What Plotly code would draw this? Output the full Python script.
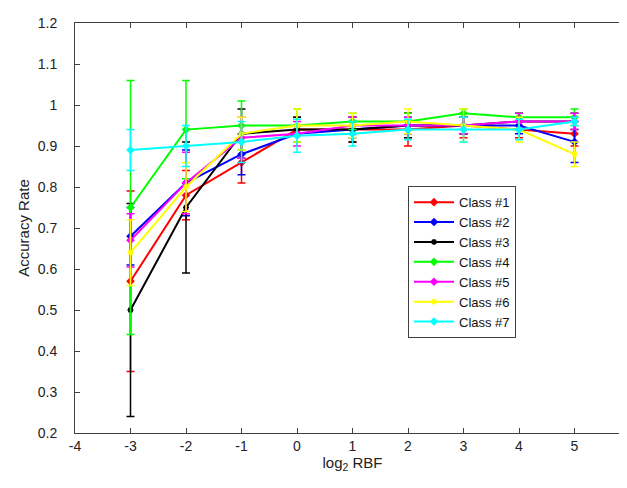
import plotly.graph_objects as go

x_vals = [-3, -2, -1, 0, 1, 2, 3, 4, 5]
x_tick_vals = [-4, -3, -2, -1, 0, 1, 2, 3, 4, 5, 6]
x_tick_text = ["-4", "-3", "-2", "-1", "0", "1", "2", "3", "4", "5", "6"]
y_tick_vals = [0.2, 0.3, 0.4, 0.5, 0.6, 0.7, 0.8, 0.9, 1.0, 1.1, 1.2]
y_tick_text = ["0.2", "0.3", "0.4", "0.5", "0.6", "0.7", "0.8", "0.9", "1", "1.1", "1.2"]

class_names = ["Class #1", "Class #2", "Class #3", "Class #4", "Class #5", "Class #6", "Class #7"]

c1 = [0.57, 0.78, 0.86, 0.94, 0.94, 0.94, 0.95, 0.94, 0.93]
c1_err = [0.22, 0.06, 0.05, 0.03, 0.03, 0.04, 0.03, 0.02, 0.03]
c2 = [0.68, 0.81, 0.88, 0.93, 0.94, 0.95, 0.95, 0.95, 0.91]
c2_err = [0.07, 0.08, 0.05, 0.02, 0.02, 0.02, 0.02, 0.02, 0.05]
c3 = [0.50, 0.75, 0.93, 0.94, 0.94, 0.95, 0.95, 0.96, 0.96]
c3_err = [0.26, 0.16, 0.06, 0.03, 0.03, 0.03, 0.02, 0.02, 0.02]
c4 = [0.75, 0.94, 0.95, 0.95, 0.96, 0.96, 0.98, 0.97, 0.97]
c4_err = [0.31, 0.12, 0.06, 0.04, 0.02, 0.02, 0.01, 0.01, 0.02]
c5 = [0.67, 0.81, 0.92, 0.93, 0.95, 0.95, 0.95, 0.96, 0.96]
c5_err = [0.065, 0.075, 0.05, 0.03, 0.02, 0.02, 0.02, 0.02, 0.02]
c6 = [0.64, 0.80, 0.93, 0.95, 0.95, 0.96, 0.95, 0.94, 0.88]
c6_err = [0.08, 0.06, 0.04, 0.04, 0.03, 0.03, 0.04, 0.03, 0.03]
c7 = [0.89, 0.90, 0.91, 0.925, 0.93, 0.94, 0.94, 0.94, 0.96]
c7_err = [0.05, 0.05, 0.05, 0.04, 0.03, 0.025, 0.03, 0.025, 0.01]

series = [c1, c2, c3, c4, c5, c6, c7]
errors = [c1_err, c2_err, c3_err, c4_err, c5_err, c6_err, c7_err]
colors = ["#ff0000", "#0000ff", "#000000", "#00ff00", "#ff00ff", "#ffff00", "#00ffff"]
symbols = ["diamond", "diamond", "asterisk-open", "diamond", "diamond", "asterisk-open", "diamond"]

fig = go.Figure()
for name, ys, es, col, sym in zip(class_names, series, errors, colors, symbols):
    fig.add_trace(go.Scatter(
        x=x_vals, y=ys, name=name, mode="lines+markers",
        line=dict(color=col, width=2),
        marker=dict(symbol=sym, size=5, color=col, line=dict(color=col, width=1.5)),
        error_y=dict(type="data", array=es, visible=True, color=col, thickness=1.5, width=4),
    ))

font_family = "Liberation Sans, Arial, sans-serif"
axis_common = dict(
    showline=True, linecolor="#404040", linewidth=1, mirror="ticks",
    ticks="inside", ticklen=5, tickcolor="#404040",
    showgrid=False, zeroline=False, automargin=False,
    tickfont=dict(family=font_family, size=14, color="#222222"),
)

fig.update_layout(
    width=627, height=488,
    margin=dict(l=67, r=5, t=15, b=63),
    paper_bgcolor="white", plot_bgcolor="white",
    xaxis=dict(range=[-4, 6], tickvals=x_tick_vals, ticktext=x_tick_text,
               ticklabelstandoff=0,
               title=dict(text="log<sub>2</sub> RBF", standoff=4,
                          font=dict(family=font_family, size=15, color="#222222")),
               **axis_common),
    yaxis=dict(range=[0.2, 1.2], tickvals=y_tick_vals, ticktext=y_tick_text,
               ticklabelstandoff=14,
               title=dict(text="Accuracy Rate", standoff=4,
                          font=dict(family=font_family, size=15, color="#222222")),
               **axis_common),
    legend=dict(x=0.6, y=0.602, xanchor="left", yanchor="top",
                bgcolor="white", bordercolor="#404040", borderwidth=1,
                font=dict(family=font_family, size=13, color="#111111"),
                tracegroupgap=0, itemwidth=40),
    showlegend=True,
)

fig.write_html("out.html")
